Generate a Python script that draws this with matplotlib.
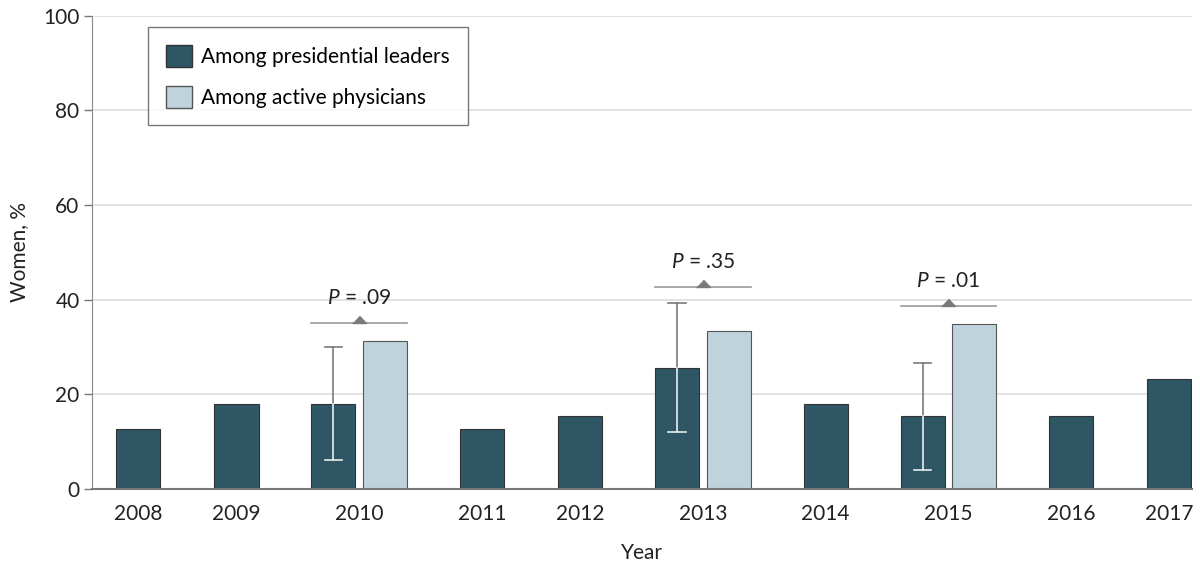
import numpy as np
import matplotlib
matplotlib.use("Agg")
import matplotlib.pyplot as plt
from matplotlib.patches import Patch

plt.rcParams["font.family"] = ["Lato", "DejaVu Sans"]
plt.rcParams["mathtext.fontset"] = "custom"
plt.rcParams["mathtext.it"] = "Lato:italic"
plt.rcParams["mathtext.rm"] = "Lato"

# =====================================
# DATA
# =====================================

years = ["2008", "2009", "2010", "2011", "2012",
         "2013", "2014", "2015", "2016", "2017"]

leaders = [12.7, 17.9, 17.9, 12.7, 15.4, 25.6, 17.9, 15.4, 15.4, 23.1]

# physicians only surveyed in 3 years
physicians = [None, None, 31.2, None, None, 33.4, None, 34.9, None, None]

# 95% CI for leaders (only where shown)
ci_low = [None, None, 6.0, None, None, 11.9, None, 4.0, None, None]
ci_high = [None, None, 30.0, None, None, 39.3, None, 26.6, None, None]

p_labels = [None, None, ".09", None, None, ".35", None, ".01", None, None]
p_height = [None, None, 35.0, None, None, 42.7, None, 38.6, None, None]

dark = "#2f5664"
light = "#bfd3dc"
gray = "#7a7a7a"
FS = 15

# =====================================
# Layout of category positions
# =====================================

centers = []
pos = 0.0
prev_pair = False
for i, y in enumerate(years):
    pair = physicians[i] is not None
    if i > 0:
        pos += 2.5 if (pair or prev_pair) else 2.0
    centers.append(pos)
    prev_pair = pair

off = 0.525
w = 0.9

fig = plt.figure(figsize=(12, 5.67), dpi=100)
ax = fig.add_axes([0.0767, 0.138, 0.9166, 0.8343])

for i, y in enumerate(years):
    c = centers[i]
    pair = physicians[i] is not None
    xd = c - off if pair else c
    ax.bar(xd, leaders[i], width=w, color=dark,
           edgecolor="#333333", linewidth=0.8, zorder=3)
    if pair:
        xl = c + off
        ax.bar(xl, physicians[i], width=w, color=light,
               edgecolor="#555555", linewidth=0.8, zorder=3)

        # error bar: gray above bar, white inside bar
        lo, hi = ci_low[i], ci_high[i]
        cap = 0.18
        ax.plot([xd, xd], [leaders[i], hi], color=gray, lw=1.2, zorder=4)
        ax.plot([xd - cap, xd + cap], [hi, hi], color=gray, lw=1.2, zorder=4)
        ax.plot([xd, xd], [lo, leaders[i]], color="#e8eef0", lw=1.2, zorder=4)
        ax.plot([xd - cap, xd + cap], [lo, lo], color="#e8eef0", lw=1.2, zorder=4)

        # P-value bracket
        ph = p_height[i]
        ax.plot([xd - w / 2, xl + w / 2], [ph, ph], color="#9a9a9a",
                lw=1.2, zorder=4)
        ax.plot([c], [ph], marker=[(-1, 0), (1, 0), (0, 1.05)],
                markersize=10.5, color=gray, linestyle="none", zorder=5)
        ax.text(c, ph + 4.0, "$P$ = " + p_labels[i], ha="center",
                va="baseline", fontsize=FS, color="#222222")

# =====================================
# Axes styling
# =====================================

ax.set_xlim(-0.94, 21.46)
ax.set_ylim(0, 100)
ax.set_yticks([0, 20, 40, 60, 80, 100])
ax.set_xticks(centers)
ax.set_xticklabels(years)
ax.tick_params(axis="x", length=0, labelsize=FS, pad=11, colors="#222222")
ax.tick_params(axis="y", length=6, width=1, color="#777777",
               labelsize=FS, pad=3, labelcolor="#222222")

ax.yaxis.grid(True, color="#dddddd", lw=1.2, zorder=0)
ax.set_axisbelow(True)

for s in ["top", "right"]:
    ax.spines[s].set_visible(False)
ax.spines["left"].set_color("#888888")
ax.spines["bottom"].set_color("#777777")
ax.spines["bottom"].set_linewidth(1.5)
ax.spines["bottom"].set_zorder(6)

ax.set_xlabel("Year", fontsize=FS, color="#222222", labelpad=14)
ax.set_ylabel("Women, %", fontsize=FS, color="#222222", labelpad=10)

# legend
handles = [
    Patch(facecolor=dark, edgecolor="#333333", label="Among presidential leaders"),
    Patch(facecolor=light, edgecolor="#555555", label="Among active physicians"),
]
leg = ax.legend(handles=handles, loc="upper left",
                bbox_to_anchor=(0.051, 0.976), fontsize=FS,
                frameon=True, fancybox=False, edgecolor="#555555",
                handlelength=1.25, handleheight=1.25, handletextpad=0.45,
                labelspacing=0.9, borderpad=0.85, borderaxespad=0)
leg.get_frame().set_linewidth(1.0)

plt.savefig("out.png", dpi=100)
